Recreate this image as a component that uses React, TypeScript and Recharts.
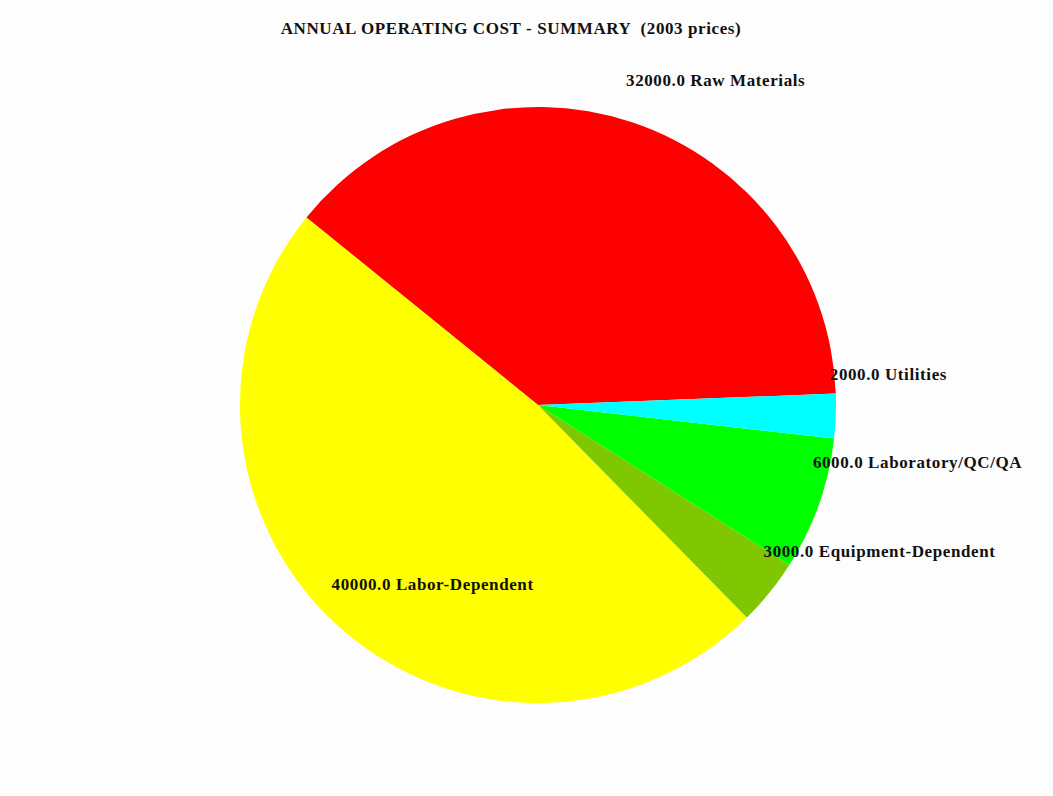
import { Cell, Pie, PieChart } from "recharts";

const names = ["Raw Materials", "Labor-Dependent", "Equipment-Dependent", "Laboratory/QC/QA", "Utilities"];
const costs = [32000, 40000, 3000, 6000, 2000];
const COLORS = ["#ff0000", "#ffff00", "#7fc700", "#00ff00", "#00ffff"];

const data = names.map((n, i) => ({ name: n, value: costs[i] }));

const RAD = Math.PI / 180;
const FONT = "'Liberation Serif', 'DejaVu Serif', serif";

function renderLabel(props: any) {
  const { cx, cy, midAngle, outerRadius, name, value } = props;
  const x = cx + outerRadius * Math.cos(-midAngle * RAD) - 6;
  const y = cy + outerRadius * Math.sin(-midAngle * RAD) - 36;
  return (
    <text
      x={x}
      y={y}
      fill="#111"
      fontFamily={FONT}
      fontWeight="bold"
      fontSize={17}
      letterSpacing={0.6}
      textAnchor="start"
    >
      {`${value.toFixed(1)} ${name}`}
    </text>
  );
}

export default function App() {
  return (
    <div style={{ position: "absolute", left: 0, top: 0, width: 1053, height: 796, background: "#fdfdfd" }}>
      <div
        style={{
          position: "absolute",
          left: 0,
          width: 1022,
          top: 19,
          textAlign: "center",
          fontFamily: FONT,
          fontWeight: "bold",
          fontSize: 17,
          letterSpacing: 0.6,
          color: "#111",
          whiteSpace: "pre",
        }}
      >
        {"ANNUAL OPERATING COST - SUMMARY  (2003 prices)"}
      </div>
      <PieChart width={1053} height={796} margin={{ top: 0, right: 0, bottom: 0, left: 0 }}>
        <Pie
          data={data}
          dataKey="value"
          nameKey="name"
          cx={538}
          cy={405}
          outerRadius={298}
          startAngle={2.2}
          endAngle={362.2}
          stroke="none"
          label={renderLabel}
          labelLine={false}
          isAnimationActive={false}
        >
          {data.map((_, i) => (
            <Cell key={i} fill={COLORS[i]} />
          ))}
        </Pie>
      </PieChart>
    </div>
  );
}
